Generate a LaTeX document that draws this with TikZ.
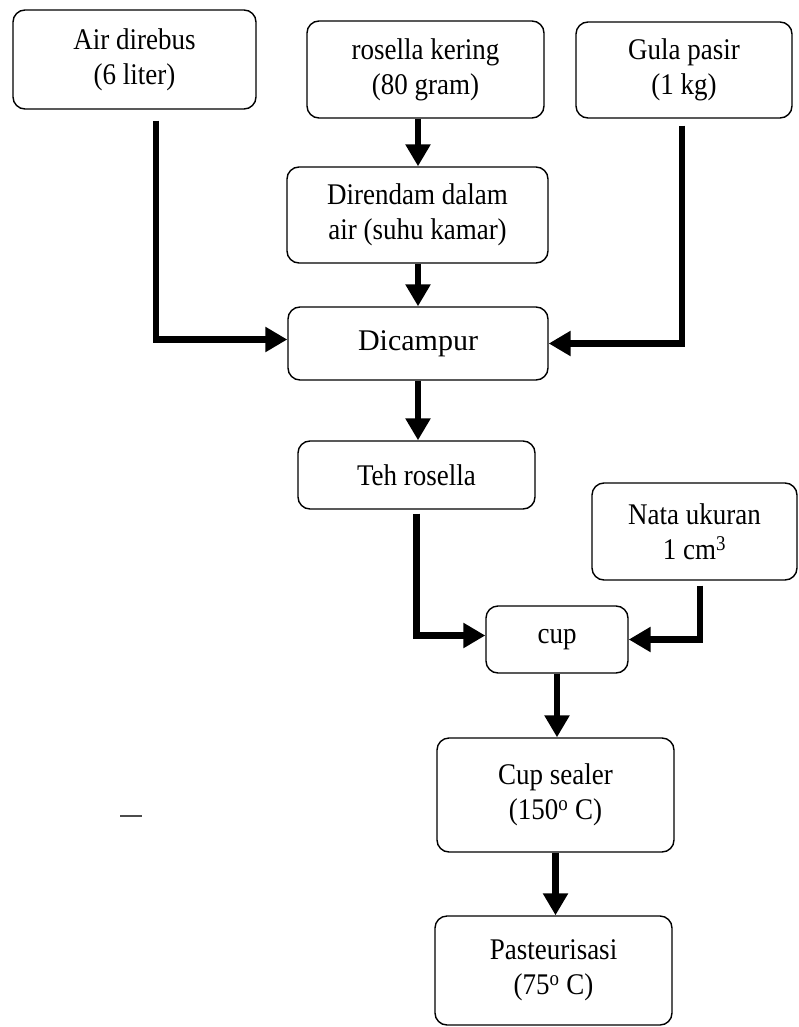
\documentclass[tikz,border=0pt]{standalone}
\usepackage{fontspec}
\setmainfont{Liberation Serif}
\newfontfamily\condserif{Liberation Serif}[FakeStretch=0.9]
\usetikzlibrary{arrows.meta}
\begin{document}
\begin{tikzpicture}[x=1pt,y=-1pt,
  box/.style={draw, rectangle, rounded corners=12pt, line width=1.4pt,
    inner sep=0pt, align=center, font=\condserif\fontsize{30}{35}\selectfont},
  arr/.style={line width=6.5pt, -{Triangle[length=22pt,width=24pt]}, line join=miter}]
\useasboundingbox (0,0) rectangle (798,1027);
\node[box, minimum width=243pt, minimum height=99pt] (air) at (134.5,59.5) {Air direbus\\(6 liter)};
\node[box, minimum width=237pt, minimum height=97pt] (ros) at (425.5,69.5) {rosella kering\\(80 gram)};
\node[box, minimum width=216pt, minimum height=96pt] (gula) at (684,70) {Gula pasir\\(1 kg)};
\node[box, minimum width=261pt, minimum height=96pt] (rend) at (417.5,215) {Direndam dalam\\air (suhu kamar)};
\node[box, minimum width=260pt, minimum height=73pt, font=\rmfamily\fontsize{30}{35}\selectfont] (camp) at (418,343.5) {Dicampur};
\node[box, minimum width=237pt, minimum height=68pt] (teh) at (416.5,475) {Teh rosella};
\node[box, minimum width=205pt, minimum height=97pt] (nata) at (694.5,531.5) {Nata ukuran\\1 cm\textsuperscript{3}};
\node[box, minimum width=142pt, minimum height=67pt] (cup) at (557,639.5) {cup};
\node[box, minimum width=237pt, minimum height=114pt] (seal) at (555.5,795) {Cup sealer\\(150\textsuperscript{o} C)};
\node[box, minimum width=237pt, minimum height=109pt] (past) at (553.5,970.5) {Pasteurisasi\\(75\textsuperscript{o} C)};
% connectors
\draw[arr] (ros.south -| camp.north) -- (rend.north -| camp.north);
\draw[arr] (rend.south -| camp.north) -- (camp.north);
\draw[arr] ([xshift=21.5pt,yshift=-11pt]air.south) |- ([yshift=4pt]camp.west);
\draw[arr] ([xshift=-2pt,yshift=-7pt]gula.south) |- (camp.east);
\draw[arr] (camp.south) -- (camp.south |- teh.north);
\draw[arr] ([yshift=-4pt]teh.south) |- ([yshift=4pt]cup.west);
\draw[arr] ([xshift=5.5pt,yshift=-5pt]nata.south) |- (cup.east);
\draw[arr] (cup.south) -- (cup.south |- seal.north);
\draw[arr] (seal.south) -- (seal.south |- past.north);
% stray scan mark
\draw[line width=1.3pt, black!70] (120,816) -- (142,816);
\end{tikzpicture}
\end{document}
